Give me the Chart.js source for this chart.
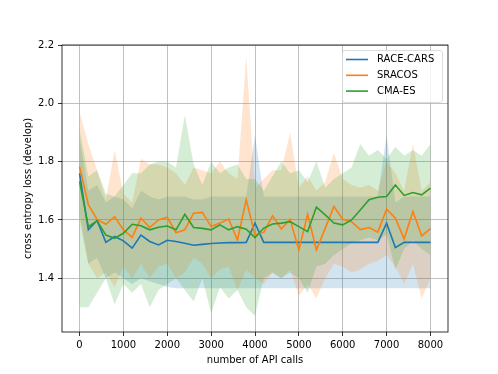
<!DOCTYPE html>
<html>
<head>
<meta charset="utf-8">
<title>cross entropy loss vs API calls</title>
<script src="https://cdn.jsdelivr.net/npm/chart.js"></script>
<style>
    body { margin: 0; background: #fff; }
    #wrap { width: 498px; height: 374px; }
</style>
</head>
<body>
<div id="wrap"><canvas id="chart" width="498" height="374"></canvas></div>
<script>
    // x positions (number of API calls)
    const apiCalls = [0, 200, 400, 600, 800, 1000, 1200, 1400, 1600, 1800,
        2000, 2200, 2400, 2600, 2800, 3000, 3200, 3400, 3600, 3800,
        4000, 4200, 4400, 4600, 4800, 5000, 5200, 5400, 5600, 5800,
        6000, 6200, 6400, 6600, 6800, 7000, 7200, 7400, 7600, 7800, 8000];

    const raceMean = [1.76, 1.566, 1.598, 1.523, 1.543, 1.528, 1.503, 1.548, 1.526, 1.514,
        1.530, 1.526, 1.520, 1.513, 1.516, 1.519, 1.521, 1.522, 1.522, 1.523,
        1.589, 1.523, 1.523, 1.523, 1.523, 1.523, 1.523, 1.523, 1.523, 1.523,
        1.523, 1.523, 1.523, 1.523, 1.523, 1.589, 1.505, 1.523, 1.523, 1.523, 1.523];
    const raceHigh = [1.88, 1.70, 1.72, 1.66, 1.68, 1.67, 1.64, 1.70, 1.68, 1.67,
        1.68, 1.68, 1.68, 1.67, 1.67, 1.68, 1.68, 1.68, 1.68, 1.68,
        1.89, 1.68, 1.68, 1.68, 1.68, 1.68, 1.68, 1.68, 1.68, 1.68,
        1.68, 1.68, 1.68, 1.68, 1.68, 1.89, 1.66, 1.68, 1.68, 1.68, 1.68];
    const raceLow = [1.62, 1.45, 1.47, 1.40, 1.42, 1.40, 1.38, 1.40, 1.39, 1.38,
        1.37, 1.366, 1.366, 1.366, 1.366, 1.366, 1.366, 1.366, 1.366, 1.366,
        1.366, 1.366, 1.366, 1.366, 1.366, 1.366, 1.366, 1.366, 1.366, 1.366,
        1.366, 1.366, 1.366, 1.366, 1.366, 1.366, 1.366, 1.366, 1.366, 1.366, 1.366];

    const sracosMean = [1.783, 1.652, 1.602, 1.585, 1.611, 1.566, 1.540, 1.606, 1.574, 1.600,
        1.609, 1.556, 1.566, 1.623, 1.626, 1.577, 1.589, 1.603, 1.531, 1.669,
        1.548, 1.557, 1.614, 1.569, 1.602, 1.497, 1.619, 1.497, 1.571, 1.646,
        1.602, 1.594, 1.567, 1.574, 1.558, 1.637, 1.606, 1.535, 1.629, 1.545, 1.570];
    const sracosHigh = [1.97, 1.86, 1.77, 1.67, 1.84, 1.69, 1.66, 1.81, 1.79, 1.79,
        1.78, 1.76, 1.72, 1.78, 1.77, 1.76, 1.80, 1.76, 1.74, 2.16,
        1.71, 1.74, 1.77, 1.77, 1.90, 1.71, 1.75, 1.70, 1.73, 1.83,
        1.74, 1.72, 1.71, 1.72, 1.70, 1.80, 1.76, 1.70, 1.86, 1.70, 1.73];
    const sracosLow = [1.60, 1.45, 1.40, 1.42, 1.37, 1.44, 1.40, 1.45, 1.40, 1.44,
        1.45, 1.40, 1.42, 1.47, 1.45, 1.40, 1.43, 1.44, 1.36, 1.43,
        1.40, 1.38, 1.42, 1.40, 1.43, 1.34, 1.38, 1.33, 1.40, 1.45,
        1.44, 1.42, 1.43, 1.45, 1.46, 1.48, 1.44, 1.38, 1.45, 1.33, 1.40];

    const cmaMean = [1.732, 1.577, 1.597, 1.548, 1.537, 1.554, 1.585, 1.580, 1.566, 1.575,
        1.579, 1.566, 1.619, 1.574, 1.571, 1.566, 1.583, 1.566, 1.577, 1.568,
        1.539, 1.572, 1.586, 1.589, 1.594, 1.577, 1.560, 1.644, 1.617, 1.589,
        1.583, 1.600, 1.634, 1.669, 1.678, 1.680, 1.720, 1.684, 1.694, 1.686, 1.709];
    const cmaHigh = [1.91, 1.75, 1.77, 1.69, 1.68, 1.72, 1.76, 1.76, 1.79, 1.80,
        1.80, 1.78, 1.96, 1.79, 1.72, 1.80, 1.76, 1.78, 1.79, 1.74,
        1.74, 1.70, 1.75, 1.80, 1.76, 1.77, 1.73, 1.80, 1.71, 1.74,
        1.76, 1.78, 1.86, 1.82, 1.84, 1.81, 1.85, 1.82, 1.84, 1.82, 1.86];
    const cmaLow = [1.30, 1.30, 1.35, 1.40, 1.31, 1.38, 1.35, 1.38, 1.30, 1.36,
        1.38, 1.40, 1.36, 1.32, 1.40, 1.28, 1.37, 1.33, 1.36, 1.30,
        1.27, 1.40, 1.42, 1.40, 1.42, 1.40, 1.35, 1.44, 1.45, 1.48,
        1.50, 1.52, 1.53, 1.54, 1.53, 1.55, 1.43, 1.50, 1.53, 1.50, 1.48];

    const seriesNames = ['RACE-CARS', 'SRACOS', 'CMA-ES'];
    const seriesColors = ['#1f77b4', '#ff7f0e', '#2ca02c'];
    const bandColors = ['rgba(31,119,180,0.2)', 'rgba(255,127,14,0.2)', 'rgba(44,160,44,0.2)'];

    const xTicks = [0, 1000, 2000, 3000, 4000, 5000, 6000, 7000, 8000];
    const yTicks = [1.4, 1.6, 1.8, 2.0, 2.2];

    const FONT = 'DejaVu Sans';

    function pts(ys) {
        return apiCalls.map((x, i) => ({ x: x, y: ys[i] }));
    }

    const means = [raceMean, sracosMean, cmaMean];
    const highs = [raceHigh, sracosHigh, cmaHigh];
    const lows = [raceLow, sracosLow, cmaLow];

    const datasets = [];
    // mean lines first (drawn on top), green on top of orange on top of blue
    for (let i = 0; i < 3; i++) {
        datasets.push({
            label: seriesNames[i],
            data: pts(means[i]),
            borderColor: seriesColors[i],
            borderWidth: 1.6,
            pointRadius: 0,
            fill: false,
            tension: 0,
            order: 2 - i
        });
    }
    // bands: upper filled down to the lower one right after it
    for (let i = 0; i < 3; i++) {
        datasets.push({
            label: seriesNames[i] + ' high',
            data: pts(highs[i]),
            borderWidth: 0,
            borderColor: 'rgba(0,0,0,0)',
            backgroundColor: bandColors[i],
            pointRadius: 0,
            fill: '+1',
            tension: 0,
            order: 10 - i
        });
        datasets.push({
            label: seriesNames[i] + ' low',
            data: pts(lows[i]),
            borderWidth: 0,
            borderColor: 'rgba(0,0,0,0)',
            pointRadius: 0,
            fill: false,
            tension: 0,
            order: 10 - i
        });
    }

    const frame = {
        id: 'frame',
        afterDatasetsDraw(chart) {
            const a = chart.chartArea;
            const ctx = chart.ctx;
            ctx.save();
            ctx.strokeStyle = '#000';
            ctx.lineWidth = 0.8;
            ctx.strokeRect(a.left, a.top, a.right - a.left, a.bottom - a.top);
            ctx.restore();
        }
    };

    const legendBox = {
        id: 'legendBox',
        afterDraw(chart) {
            const a = chart.chartArea;
            const ctx = chart.ctx;
            const w = 100, h = 52;
            const x = a.right - 6 - w, y = a.top + 5;
            ctx.save();
            ctx.beginPath();
            ctx.roundRect(x + 0.5, y + 0.5, w, h, 2.5);
            ctx.fillStyle = 'rgba(255,255,255,0.8)';
            ctx.fill();
            ctx.strokeStyle = '#d6d6d6';
            ctx.lineWidth = 0.8;
            ctx.stroke();
            ctx.font = '10px "' + FONT + '"';
            ctx.textBaseline = 'middle';
            for (let i = 0; i < seriesNames.length; i++) {
                const ly = y + 9.5 + i * 15.8;
                ctx.strokeStyle = seriesColors[i];
                ctx.lineWidth = 1.6;
                ctx.beginPath();
                ctx.moveTo(x + 4, ly);
                ctx.lineTo(x + 26, ly);
                ctx.stroke();
                ctx.fillStyle = '#000';
                ctx.fillText(seriesNames[i], x + 35, ly);
            }
            ctx.restore();
        }
    };

    new Chart(document.getElementById('chart'), {
        type: 'line',
        data: { datasets: datasets },
        options: {
            responsive: false,
            animation: false,
            events: [],
            layout: { padding: { left: 0, top: 45, right: 50, bottom: 0 } },
            plugins: {
                legend: { display: false },
                tooltip: { enabled: false }
            },
            scales: {
                x: {
                    type: 'linear',
                    min: -400,
                    max: 8400,
                    afterBuildTicks: (s) => { s.ticks = xTicks.map(v => ({ value: v })); },
                    afterFit: (s) => { s.height = 42; },
                    ticks: {
                        color: '#000',
                        padding: 3,
                        maxRotation: 0,
                        font: { family: FONT, size: 10 },
                        callback: (v) => String(v)
                    },
                    grid: { color: '#b0b0b0', lineWidth: 0.8, tickColor: '#000', tickLength: 4 },
                    border: { display: false },
                    title: {
                        display: true,
                        text: 'number of API calls',
                        color: '#000',
                        font: { family: FONT, size: 10 },
                        padding: { top: 0, bottom: 8 }
                    }
                },
                y: {
                    type: 'linear',
                    min: 1.2155,
                    max: 2.2,
                    afterBuildTicks: (s) => { s.ticks = yTicks.map(v => ({ value: v })); },
                    afterFit: (s) => { s.width = 62; },
                    ticks: {
                        color: '#000',
                        padding: 4,
                        font: { family: FONT, size: 10 },
                        callback: (v) => v.toFixed(1)
                    },
                    grid: { color: '#b0b0b0', lineWidth: 0.8, tickColor: '#000', tickLength: 4 },
                    border: { display: false },
                    title: {
                        display: true,
                        text: 'cross entropy loss (develop)',
                        color: '#000',
                        font: { family: FONT, size: 10 },
                        padding: { top: 22, bottom: 0 }
                    }
                }
            }
        },
        plugins: [frame, legendBox]
    });
</script>
</body>
</html>
